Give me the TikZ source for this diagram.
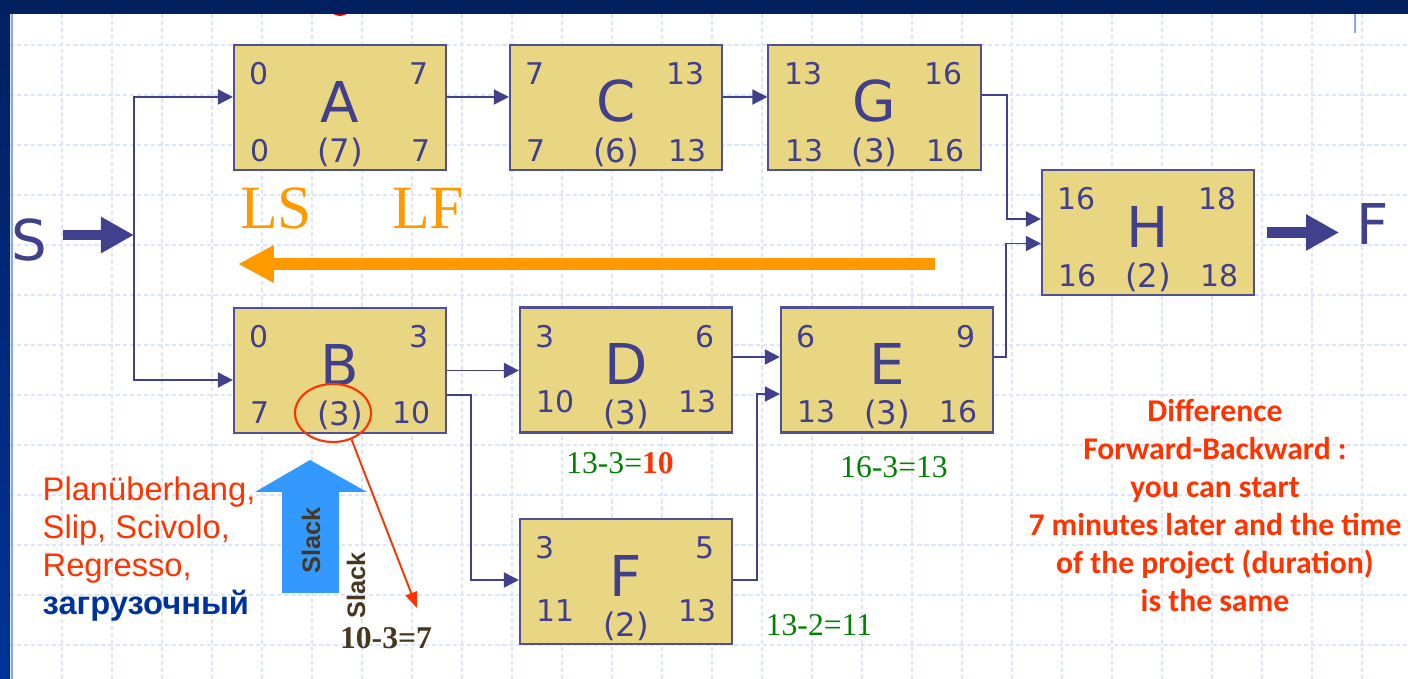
\documentclass[tikz,border=0pt]{standalone}
\usepackage{fontspec}
\setmainfont{Liberation Serif}
\newfontfamily\verdanafont{DejaVu Sans}
\newfontfamily\arialfont{Liberation Sans}
\newfontfamily\calibrifont{Carlito}
\usetikzlibrary{arrows.meta,calc,shapes.geometric}

\definecolor{boxfill}{RGB}{233,214,130}
\definecolor{boxline}{RGB}{80,80,150}
\definecolor{ink}{RGB}{64,64,140}
\definecolor{lsorange}{RGB}{255,153,0}
\definecolor{slackblue}{RGB}{51,153,255}
\definecolor{notered}{RGB}{255,51,0}
\definecolor{rugblue}{RGB}{0,51,153}
\definecolor{calcgreen}{RGB}{0,128,0}
\definecolor{slackbrown}{RGB}{70,55,30}
\definecolor{gridblue}{RGB}{220,229,250}
\definecolor{navy}{RGB}{0,32,96}
\definecolor{frameblue}{RGB}{0,51,153}
\definecolor{paleblue}{RGB}{140,165,240}

\begin{document}
\begin{tikzpicture}[x=0.01cm, y=-0.01cm,
    actbox/.style={draw=boxline, fill=boxfill, line width=0.6pt, minimum width=2.12cm, minimum height=1.25cm, inner sep=0pt},
    bigletter/.style={text=ink, font=\verdanafont\fontsize{16}{18}\selectfont, inner sep=0pt},
    num/.style={text=ink, font=\verdanafont\fontsize{8.5}{10}\selectfont, inner sep=0pt},
    dur/.style={text=ink, font=\verdanafont\fontsize{9.2}{10}\selectfont, inner sep=0pt},
    endlabel/.style={text=ink, font=\verdanafont\fontsize{16}{18}\selectfont, inner sep=0pt},
    conn/.style={draw=ink, line width=0.55pt, -{Triangle[length=4.3pt,width=4.3pt]}},
    bigarrow/.style={draw=ink, line width=3.1pt, -{Triangle[length=9.4pt,width=9.7pt]}},
    lsarrow/.style={draw=lsorange, line width=3.4pt, -{Triangle[length=10.2pt,width=10pt]}},
    redarrow/.style={draw=notered, line width=0.55pt, -{Triangle[length=4.5pt,width=3.4pt]}},
    lslabel/.style={text=lsorange, font=\fontsize{17.5}{20}\selectfont, inner sep=0pt},
    greencalc/.style={text=calcgreen, font=\fontsize{9}{11}\selectfont, inner sep=0pt},
    slacktext/.style={text=slackbrown, font=\arialfont\bfseries\fontsize{7.2}{8}\selectfont, inner sep=0pt, rotate=90},
    gridline/.style={draw=gridblue, line width=0.35pt, dash pattern=on 1.2pt off 0.8pt}]
  \useasboundingbox (0,0) rectangle (1408,679);
  % background grid and frame
  \foreach \gx in {1,...,27} \draw[gridline] (12+50*\gx,14) -- (12+50*\gx,679);
  \foreach \gy in {0,...,12} \draw[gridline] (10,45+50*\gy) -- (1408,45+50*\gy);
  \fill[red!85!black] (340,6) ellipse [x radius=11, y radius=10];
  \fill[navy] (0,0) rectangle (1408,14);
  \shade[top color=navy, bottom color=frameblue] (0,0) rectangle (10,679);
  \draw[paleblue, line width=0.6pt] (12,14) -- (12,679);
  \draw[paleblue, line width=0.6pt] (1355,14) -- (1355,33);

  % activities: name/x/y/ES/EF/LS/LF/duration/bottom row
  \foreach \act/\x/\y/\es/\ef/\ls/\lf/\d/\r in {
      A/340/107.5/0/7/0/7/7/20, C/616/107.5/7/13/7/13/6/20,
      G/874.5/107.5/13/16/13/16/3/20, H/1148/232.5/16/18/16/18/2/20,
      B/340/370.5/0/3/7/10/3/21, D/626/370/3/6/10/13/3/32,
      E/887/370/6/9/13/16/3/22, F/626/581.5/3/5/11/13/2/34}
  {
    \node[actbox] (\act) at (\x,\y) {};
    \node[bigletter] (\act-l) at ($(\act)+(0,-6)$) {\act};
    \node[num, anchor=west] (\act-es) at ($(\act.north west)+(16,30)$) {\es};
    \node[num, anchor=east] (\act-ef) at ($(\act.north east)+(-18,30)$) {\ef};
    \node[num, anchor=west] (\act-ls) at ($(\act.south west)+(17,-\r)$) {\ls};
    \node[num, anchor=east] (\act-lf) at ($(\act.south east)+(-16,-\r)$) {\lf};
    \node[dur] (\act-d) at ($(\act.south)+(0,-19)$) {(\d)};
  }

  % start and finish
  \node[endlabel] (start) at (29,240) {S};
  \coordinate (split) at (134,235);
  \draw[bigarrow] ($(start.east)+(15,-5)$) -- (split);
  \node[endlabel] (finish) at (1373,224) {F};
  \draw[bigarrow] ($(H.east)+(12,0)$) -- ($(finish.west |- H.east)+(-17,0)$);

  % precedences
  \draw[conn] (split) |- ($(A.west)+(0,-10.5)$);
  \draw[conn] (split) |- ($(B.west)+(0,9.5)$);
  \draw[conn] ($(A.east)+(0,-10.5)$) -- ($(C.west)+(0,-10.5)$);
  \draw[conn] ($(C.east)+(0,-10.5)$) -- ($(G.west)+(0,-10.5)$);
  \draw[conn] ($(G.east)+(0,-12.5)$) -- ++(25,0) |- ($(H.west)+(0,-13.5)$);
  \draw[conn] ($(E.east)+(0,-13)$) -- ++(12,0) |- ($(H.west)+(0,11)$);
  \draw[conn] (B.east) -- (D.west |- B.east);
  \draw[conn] ($(B.east)+(0,24.5)$) -- ++(24,0) |- ($(F.west)+(0,-1.5)$);
  \draw[conn] ($(D.east)+(0,-13)$) -- ($(E.west)+(0,-13)$);
  \draw[conn] ($(F.east)+(0,-1.5)$) -- ++(24,0) |- ($(E.west)+(0,24)$);

  % backward pass
  \node[lslabel] (ls) at (276,208) {LS};
  \node[lslabel] (lf) at (428,208) {LF};
  \coordinate (back-from) at (935,264);
  \coordinate (back-to) at (238,264);
  \draw[lsarrow] (back-from) -- (back-to);

  \node[greencalc] (D-calc) at (620,463) {13-3=\textcolor{notered}{\bfseries 10}};
  \node[greencalc] (E-calc) at (894,467) {16-3=13};
  \node[greencalc] (F-calc) at (819,625) {13-2=11};

  % slack of B
  \node[ellipse, draw=notered, line width=0.6pt, minimum width=0.76cm, minimum height=0.58cm, inner sep=0pt] (ring) at (333,413) {};
  \fill[slackblue] (282,593) -- (282,492) -- (255,492) -- (310,460) -- (367,492) -- (339,492) -- (339,593) -- cycle;
  \node[slacktext] (slack-in) at (311,540) {Slack};
  \node[slacktext] (slack-out) at (356,585) {Slack};
  \node[text=slackbrown, font=\bfseries\fontsize{9}{11}\selectfont, inner sep=0pt] (slack-calc) at (386,638) {10-3=7};
  \coordinate (slack-tip) at (417,608);
  \draw[redarrow] (ring.-55) -- (slack-tip);

  \node[anchor=north west, align=left, inner sep=0pt, text=notered, font=\arialfont\fontsize{9.3}{10.8}\selectfont] (names) at (42,476)
    {Planüberhang,\\Slip, Scivolo,\\Regresso,\\\textcolor{rugblue}{\bfseries загрузочный}};
  \node[anchor=north, align=center, inner sep=0pt, text=notered, font=\calibrifont\bfseries\fontsize{9}{10.8}\selectfont] (diff) at (1215,399)
    {Difference\\Forward-Backward :\\you can start\\7 minutes later and the time\\of the project (duration)\\is the same};
\end{tikzpicture}
\end{document}
